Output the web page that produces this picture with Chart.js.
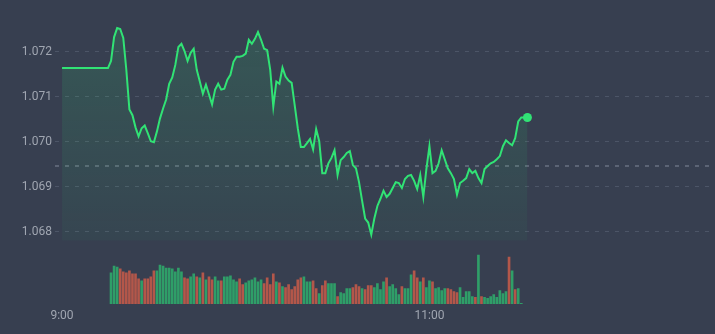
<!DOCTYPE html>
<html>
<head>
<meta charset="utf-8">
<script src="https://cdn.jsdelivr.net/npm/chart.js@4"></script>
<style>
  html, body { margin: 0; padding: 0; background: #373f50; }
  #wrap { width: 715px; height: 334px; }
</style>
</head>
<body>
<div id="wrap"><canvas id="priceChart" width="715" height="334"></canvas></div>
<script>
// minutes after 9:00
const openMinute = 0;
const firstTradeMinute = 15;
const openPrice = 1.07164;
const prevClose = 1.06946;

// one price per minute, from 9:15
const prices = [
  1.07164, 1.07180, 1.07233, 1.07253, 1.07251, 1.07231, 1.07160, 1.07072, 1.07059, 1.07032,
  1.07012, 1.07030, 1.07036, 1.07019, 1.07001, 1.06999, 1.07023, 1.07052, 1.07074, 1.07094,
  1.07129, 1.07143, 1.07171, 1.07211, 1.07218, 1.07202, 1.07180, 1.07198, 1.07207, 1.07160,
  1.07134, 1.07107, 1.07127, 1.07105, 1.07083, 1.07116, 1.07129, 1.07116, 1.07118, 1.07138,
  1.07149, 1.07178, 1.07189, 1.07189, 1.07191, 1.07196, 1.07227, 1.07218, 1.07229, 1.07244,
  1.07227, 1.07207, 1.07204, 1.07160, 1.07078, 1.07134, 1.07129, 1.07165, 1.07145, 1.07136,
  1.07131, 1.07081, 1.07030, 1.06988, 1.06988, 1.06997, 1.07006, 1.06983, 1.07028, 1.07001,
  1.06930, 1.06930, 1.06952, 1.06964, 1.06981, 1.06926, 1.06959, 1.06966, 1.06975, 1.06979,
  1.06948, 1.06941, 1.06910, 1.06869, 1.06829, 1.06820, 1.06793, 1.06829, 1.06857, 1.06873,
  1.06891, 1.06877, 1.06884, 1.06897, 1.06910, 1.06908, 1.06897, 1.06917, 1.06924, 1.06926,
  1.06913, 1.06895, 1.06926, 1.06877, 1.06939, 1.06990, 1.06930, 1.06935, 1.06952, 1.06981,
  1.06961, 1.06941, 1.06930, 1.06917, 1.06882, 1.06908, 1.06913, 1.06919, 1.06939, 1.06930,
  1.06935, 1.06919, 1.06908, 1.06939, 1.06946, 1.06952, 1.06955, 1.06961, 1.06968, 1.06990,
  1.07003, 1.06997, 1.06992, 1.07008, 1.07045, 1.07054, 1.07054, 1.07054
];

// volume per minute, from 9:16
const firstVolumeMinute = 16;
const volumes = [
   95, 116, 113, 107,  98,  95, 101,  92,  92,  77,  71,  77,  77,  83, 101, 101, 119, 116, 110, 110,
  107,  98, 110,  98,  80,  77,  83,  92,  83,  80,  95,  74,  83,  74,  83,  71,  71,  83,  83,  86,
   74,  68,  77,  59,  65,  71,  74,  80,  68,  74,  62,  80,  59,  92,  68,  65,  53,  50,  59,  44,
   53,  74,  80,  83,  68,  68,  71,  47,  32,  56,  71,  62,  62,  62,  23,  35,  32,  47,  47,  50,
   59,  53,  47,  44,  56,  56,  50,  62,  44,  68,  80,  53,  59,  47,  29,  53,  47,  47,  89, 101,
   80,  68,  80,  50,  71,  68,  47,  50,  41,  47,  47,  44,  38,  35,  50,  20,  38,  38,  23,  20,
  149,  23,  20,  17,  23,  29,  20,  41,  32,  38, 143, 101,  44,  47,   2
];
// 1 = up minute, 0 = down minute
const volumeUp = [
  1, 1, 1, 0, 0, 0, 0, 0, 0, 0, 1, 0, 0, 0, 0, 1, 1, 1, 1, 1,
  1, 1, 1, 1, 0, 0, 1, 1, 0, 1, 0, 1, 0, 0, 1, 1, 0, 1, 1, 1,
  1, 1, 0, 0, 1, 1, 1, 1, 1, 1, 0, 0, 0, 0, 1, 0, 1, 0, 0, 0,
  0, 0, 0, 1, 1, 1, 0, 0, 1, 0, 0, 1, 1, 1, 0, 1, 1, 1, 1, 0,
  0, 0, 1, 0, 0, 0, 1, 1, 1, 1, 0, 1, 1, 1, 1, 0, 1, 1, 1, 0,
  0, 1, 0, 1, 1, 0, 1, 1, 1, 1, 0, 0, 0, 0, 1, 1, 1, 1, 1, 0,
  1, 0, 1, 1, 1, 1, 1, 1, 1, 1, 0, 1, 0, 1, 1
];

const timeTicks = [0, 120];
const timeLabels = ['9:00', '11:00'];
const priceTicks = [1.068, 1.069, 1.070, 1.071, 1.072];

const UP = '#2f9e68';
const DOWN = '#b3574a';
const LINE = '#31e375';

const linePoints = [{ x: openMinute, y: openPrice }].concat(
  prices.map((p, i) => ({ x: firstTradeMinute + i, y: p }))
);
const volumePoints = volumes.map((v, i) => ({ x: firstVolumeMinute + i, y: v }));

// dotted line at previous close
const prevClosePlugin = {
  id: 'prevClose',
  beforeDatasetsDraw(chart) {
    const { ctx, chartArea, scales } = chart;
    const y = Math.round(scales.y.getPixelForValue(prevClose));
    ctx.save();
    ctx.strokeStyle = '#5c6475';
    ctx.lineWidth = 2;
    ctx.setLineDash([4, 6]);
    ctx.beginPath();
    ctx.moveTo(chartArea.left, y);
    ctx.lineTo(chartArea.right, y);
    ctx.stroke();
    ctx.restore();
  }
};

const ctx = document.getElementById('priceChart').getContext('2d');

new Chart(ctx, {
  type: 'line',
  data: {
    datasets: [
      {
        type: 'line',
        data: linePoints,
        yAxisID: 'y',
        borderColor: LINE,
        borderWidth: 2,
        tension: 0,
        fill: { value: 1.0678 },
        backgroundColor: (c) => {
          const area = c.chart.chartArea;
          if (!area) return 'rgba(49,227,117,0.08)';
          const g = c.chart.ctx.createLinearGradient(0, 25, 0, 240);
          g.addColorStop(0, 'rgba(49,227,117,0.15)');
          g.addColorStop(1, 'rgba(49,227,117,0.04)');
          return g;
        },
        pointRadius: (c) => c.dataIndex === linePoints.length - 1 ? 4.5 : 0,
        pointBackgroundColor: LINE,
        pointBorderWidth: 0,
        order: 1
      },
      {
        type: 'bar',
        data: volumePoints,
        yAxisID: 'vol',
        backgroundColor: volumeUp.map(u => u ? UP : DOWN),
        barThickness: 2,
        order: 2
      }
    ]
  },
  options: {
    responsive: false,
    devicePixelRatio: 1,
    animation: false,
    layout: { padding: { top: 8, right: 0, bottom: 0, left: 0 } },
    plugins: {
      legend: { display: false },
      tooltip: { enabled: false }
    },
    scales: {
      x: {
        type: 'linear',
        min: -2.3,
        max: 211.8,
        offset: false,
        grid: { display: false, drawTicks: false },
        border: { display: false },
        afterBuildTicks: (s) => { s.ticks = timeTicks.map(v => ({ value: v })); },
        afterFit: (s) => { s.height = 30; },
        ticks: {
          autoSkip: false,
          maxRotation: 0,
          padding: 5,
          color: '#a0a6b1',
          font: { family: 'Roboto', size: 12 },
          callback: (v) => timeLabels[timeTicks.indexOf(v)]
        }
      },
      y: {
        position: 'left',
        min: 1.066387,
        max: 1.072928,
        afterBuildTicks: (s) => { s.ticks = priceTicks.map(v => ({ value: v })); },
        afterFit: (s) => { s.width = 55; },
        grid: { color: '#4c5567', lineWidth: 1, drawTicks: false },
        border: { display: false, dash: [4, 6] },
        ticks: {
          padding: 3,
          color: '#a0a6b1',
          font: { family: 'Roboto', size: 12 },
          callback: (v) => v.toFixed(3)
        }
      },
      vol: {
        display: false,
        min: 0,
        max: 897
      }
    }
  },
  plugins: [prevClosePlugin]
});
</script>
</body>
</html>
